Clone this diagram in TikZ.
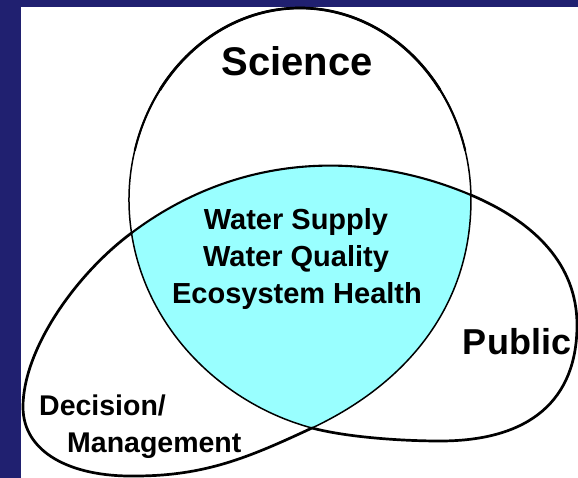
\documentclass[tikz,border=0pt]{standalone}
\usepackage{fontspec}
\setmainfont{Liberation Sans}
\definecolor{navy}{RGB}{32,32,112}
\definecolor{aqua}{RGB}{153,255,255}
\begin{document}
\begin{tikzpicture}[x=1pt,y=1pt,
  lbl/.style={inner sep=0pt},
  thinline/.style={line width=1.5pt, line cap=round},
  midline/.style={line width=2.1pt, line cap=round},
  thickline/.style={line width=2.7pt, line cap=round},
  sci/.style={x radius=171, y radius=192}]
\useasboundingbox (0,-478) rectangle (578,0);
\fill[navy] (0,-478) rectangle (578,0);
\fill[white] (21,-478) rectangle (578,-7);
\coordinate (sc) at (300,-200);
% cyan centre: nonzero fill, then even-odd white fill of the three lobes
\fill[aqua] ([shift={(sc)}]189.9:171 and 192) arc[start angle=189.9, end angle=1.5, sci]
  .. controls (473,-300) and (412,-381) .. (312,-428)
  .. controls (248.6,-457.6) and (205,-476) .. (135,-476)
  .. controls (70,-477) and (23,-452) .. (23,-407)
  .. controls (23,-350) and (75,-275) .. (131.5,-233)
  .. controls (235,-155) and (360,-148) .. (470.9,-195)
  .. controls (535.5,-222.4) and (577,-265) .. (577,-325)
  .. controls (577,-400) and (530,-441) .. (440,-441)
  .. controls (400,-441) and (346,-437) .. (312,-428)
  .. controls (225,-404.7) and (146.6,-331.8) .. (131.5,-233) -- cycle;
\fill[white, even odd rule] ([shift={(sc)}]189.9:171 and 192) arc[start angle=189.9, end angle=1.5, sci]
  .. controls (473,-300) and (412,-381) .. (312,-428)
  .. controls (248.6,-457.6) and (205,-476) .. (135,-476)
  .. controls (70,-477) and (23,-452) .. (23,-407)
  .. controls (23,-350) and (75,-275) .. (131.5,-233)
  .. controls (235,-155) and (360,-148) .. (470.9,-195)
  .. controls (535.5,-222.4) and (577,-265) .. (577,-325)
  .. controls (577,-400) and (530,-441) .. (440,-441)
  .. controls (400,-441) and (346,-437) .. (312,-428)
  .. controls (225,-404.7) and (146.6,-331.8) .. (131.5,-233) -- cycle;
% Science lobe: thin sides, heavier top
\draw[thinline] ([shift={(sc)}]189.9:171 and 192) arc[start angle=189.9, end angle=1.5, sci];
\draw[midline] ([shift={(sc)}]165:171 and 192) arc[start angle=165, end angle=15, sci];
\draw[thickline] ([shift={(sc)}]145:171 and 192) arc[start angle=145, end angle=35, sci];
% inner sides of the centre
\draw[thinline] (470.9,-195) .. controls (473,-300) and (412,-381) .. (312,-428);
\draw[thinline] (312,-428) .. controls (225,-404.7) and (146.6,-331.8) .. (131.5,-233);
% Decision / Management lobe
\draw[thickline] (312,-428) .. controls (248.6,-457.6) and (205,-476) .. (135,-476)
  .. controls (70,-477) and (23,-452) .. (23,-407)
  .. controls (23,-350) and (75,-275) .. (131.5,-233);
% top of the centre
\draw[midline] (131.5,-233) .. controls (235,-155) and (360,-148) .. (470.9,-195);
% Public lobe
\draw[thickline] (470.9,-195) .. controls (535.5,-222.4) and (577,-265) .. (577,-325)
  .. controls (577,-400) and (530,-441) .. (440,-441)
  .. controls (400,-441) and (346,-437) .. (312,-428);
% labels
\node[lbl, anchor=base, font=\fontsize{40}{48}\selectfont\bfseries] (sci) at (297,-76) {Science};
\node[lbl, anchor=base, font=\fontsize{29}{35}\selectfont\bfseries] (ws) at (296,-230) {Water Supply};
\node[lbl, anchor=base, font=\fontsize{29}{35}\selectfont\bfseries] (wq) at (296,-267) {Water Quality};
\node[lbl, anchor=base, font=\fontsize{29}{35}\selectfont\bfseries] (eh) at (297,-303) {Ecosystem Health};
\node[lbl, anchor=base, font=\fontsize{36}{43}\selectfont\bfseries] (pub) at (517,-354) {Public};
\node[lbl, anchor=base west, font=\fontsize{28.5}{34}\selectfont\bfseries] (dec) at (39,-415) {Decision/};
\node[lbl, anchor=base west, font=\fontsize{28.5}{34}\selectfont\bfseries] (mgmt) at (67,-452) {Management};
\end{tikzpicture}
\end{document}
